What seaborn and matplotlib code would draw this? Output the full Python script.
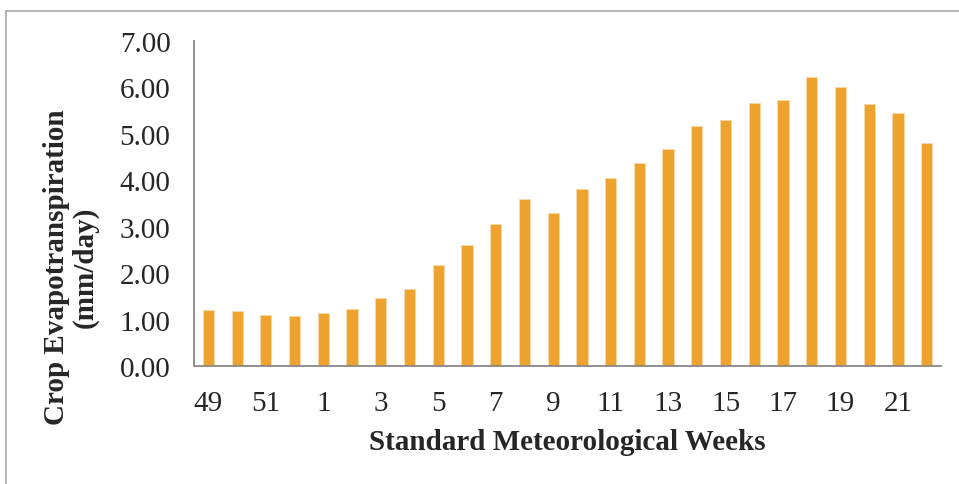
import numpy as np
import pandas as pd
import seaborn as sns
import matplotlib.pyplot as plt
from matplotlib.patches import Rectangle

# Standard meteorological weeks and crop ET values (mm/day)
weeks = ['49', '50', '51', '52', '1', '2', '3', '4', '5', '6', '7', '8', '9',
         '10', '11', '12', '13', '14', '15', '16', '17', '18', '19', '20', '21', '22']
etc = [1.20, 1.19, 1.11, 1.08, 1.14, 1.22, 1.47, 1.67, 2.17, 2.60, 3.05, 3.59, 3.29,
       3.80, 4.04, 4.38, 4.67, 5.17, 5.29, 5.67, 5.73, 6.23, 6.01, 5.64, 5.45, 4.79]
yticks = [0, 1, 2, 3, 4, 5, 6, 7]

df = pd.DataFrame({'week': weeks, 'etc': etc})

sns.set_style('white')
plt.rcParams['font.family'] = ['Liberation Serif', 'DejaVu Serif']

fig = plt.figure(figsize=(9.59, 4.85), dpi=100)
ax = fig.add_axes([0.2023, 0.243, 0.779, 0.671])

sns.barplot(data=df, x='week', y='etc', order=weeks, color='#EFA32F',
            saturation=1, width=0.39, edgecolor='#F7D9A8', linewidth=0.6, ax=ax)

n = len(weeks)
ax.set_xlim(-0.5, n - 0.5)
ax.set_ylim(0, 7)
ax.set_yticks(yticks)
ax.set_yticklabels([f'{v:.2f}' for v in yticks], fontsize=21)

# Excel-like category axis: ticks between categories, labels every other week
ax.set_xticks(np.arange(-0.5, n, 1.0))
ax.set_xticklabels([])
ax.set_xticks(np.arange(0, n, 2), minor=True)
ax.set_xticklabels(weeks[::2], minor=True, fontsize=21)
ax.tick_params(axis='x', which='major', direction='out', length=6, width=1.2, color='#888888')
ax.tick_params(axis='x', which='minor', length=0, pad=17)
ax.tick_params(axis='y', direction='out', length=5, width=1.2, color='#888888', pad=12)

for s in ['top', 'right']:
    ax.spines[s].set_visible(False)
for s in ['left', 'bottom']:
    ax.spines[s].set_color('#888888')
    ax.spines[s].set_linewidth(1.3)

ax.set_xlabel('')
ax.set_ylabel('')
fig.text(0.592, 1 - 443 / 485, 'Standard Meteorological Weeks', ha='center', va='center',
         fontsize=21, fontweight='bold')
fig.text(71 / 959, 1 - 267 / 485, 'Crop Evapotranspiration\n(mm/day)', ha='center', va='center',
         rotation=90, fontsize=21, fontweight='bold', linespacing=1.1)

# outer chart border
fig.patches.append(Rectangle((6 / 959, -0.1), 1.2, 1 - 12 / 485 + 0.1, transform=fig.transFigure,
                             fill=False, edgecolor='#A6A6A6', linewidth=1.2))

fig.savefig('out.png', dpi=100)
